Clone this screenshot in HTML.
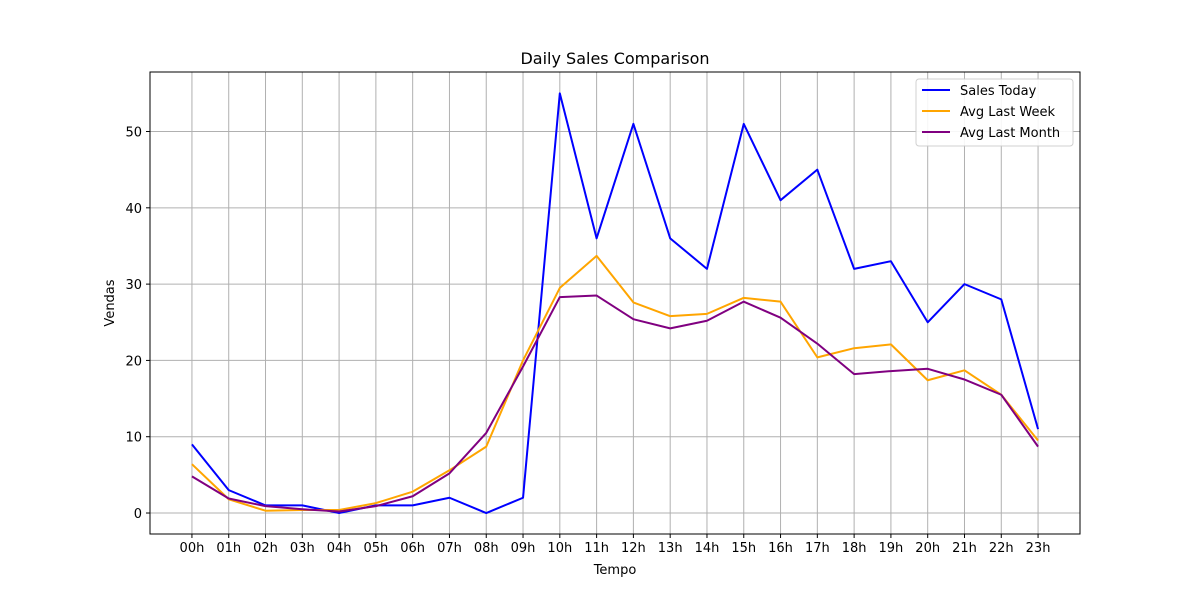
<!DOCTYPE html>
<html><head><meta charset="utf-8"><style>
body{margin:0;background:#fff}
text{font-family:"DejaVu Sans","Liberation Sans",sans-serif;fill:#000}
</style></head><body>
<svg id="chart" width="1200" height="600" xmlns="http://www.w3.org/2000/svg"></svg>
<script>
const categories=["00h","01h","02h","03h","04h","05h","06h","07h","08h","09h","10h","11h","12h","13h","14h","15h","16h","17h","18h","19h","20h","21h","22h","23h"];
const salesToday=[9,3,1,1,0,1,1,2,0,2,55,36,51,36,32,51,41,45,32,33,25,30,28,11];
const avgLastWeek=[6.4,1.8,0.3,0.4,0.4,1.3,2.8,5.6,8.7,20,29.5,33.7,27.6,25.8,26.1,28.2,27.7,20.4,21.6,22.1,17.4,18.7,15.5,9.5];
const avgLastMonth=[4.8,1.9,0.9,0.5,0.2,0.9,2.2,5.2,10.5,19.2,28.3,28.5,25.4,24.2,25.2,27.7,25.6,22.2,18.2,18.6,18.9,17.5,15.5,8.7];
const yTicks=[0,10,20,30,40,50];
const seriesNames=["Sales Today","Avg Last Week","Avg Last Month"];
const seriesColors=["#0000ff","#ffa500","#800080"];

const L=150,R=1080,T=72,B=534;
const xMin=-1.14,xMax=24.14,yMin=-2.75,yMax=57.8;
const X=i=>L+(i-xMin)/(xMax-xMin)*(R-L);
const Y=v=>B-(v-yMin)/(yMax-yMin)*(B-T);
const svg=document.getElementById('chart');
const NS="http://www.w3.org/2000/svg";
function mk(tag,attrs,parent){const e=document.createElementNS(NS,tag);for(const k in attrs)e.setAttribute(k,attrs[k]);(parent||svg).appendChild(e);return e;}

const grid=mk('g',{});


categories.forEach((c,i)=>{
  const x=X(i);
  mk('line',{x1:x,x2:x,y1:T,y2:B,stroke:'#b0b0b0','stroke-width':1},grid);
  mk('line',{x1:x,x2:x,y1:B,y2:B+4,stroke:'#000'});
  const t=mk('text',{x:x,y:B+18,'text-anchor':'middle','font-size':13});
  t.textContent=c;
  
  
});
yTicks.forEach(v=>{
  const y=Y(v);
  mk('line',{x1:L,x2:R,y1:y,y2:y,stroke:'#b0b0b0','stroke-width':1},grid);
  mk('line',{x1:L-4,x2:L,y1:y,y2:y,stroke:'#000'});
  const t=mk('text',{x:L-8,y:y+5,'text-anchor':'end','font-size':13});
  t.textContent=v;
  
  
});
[salesToday,avgLastWeek,avgLastMonth].forEach((s,k)=>{
  const p=mk('polyline',{points:s.map((v,i)=>X(i)+','+Y(v)).join(' '),fill:'none',stroke:seriesColors[k],'stroke-width':2,'stroke-linejoin':'round'});
  
  
});
const frame=mk('rect',{x:L,y:T,width:R-L,height:B-T,fill:'none',stroke:'#000','stroke-width':1});



const title=mk('text',{x:(L+R)/2,y:64,'text-anchor':'middle','font-size':16});
title.textContent='Daily Sales Comparison';


const xt=mk('text',{x:(L+R)/2,y:574,'text-anchor':'middle','font-size':13});
xt.textContent='Tempo';


const yt=mk('text',{x:114,y:303,'text-anchor':'middle','font-size':13,transform:'rotate(-90 114 303)'});
yt.textContent='Vendas';



const lg=mk('g',{});


mk('rect',{x:916,y:79,width:157,height:67,rx:3,fill:'#fff',stroke:'#ccc',opacity:0.9},lg);
seriesNames.forEach((n,k)=>{
  const y=90+k*21;
  mk('line',{x1:922,x2:950,y1:y,y2:y,stroke:seriesColors[k],'stroke-width':2},lg);
  const t=mk('text',{x:960,y:y+5,'font-size':13},lg);
  t.textContent=n;
  
  
});
</script>
</body></html>
